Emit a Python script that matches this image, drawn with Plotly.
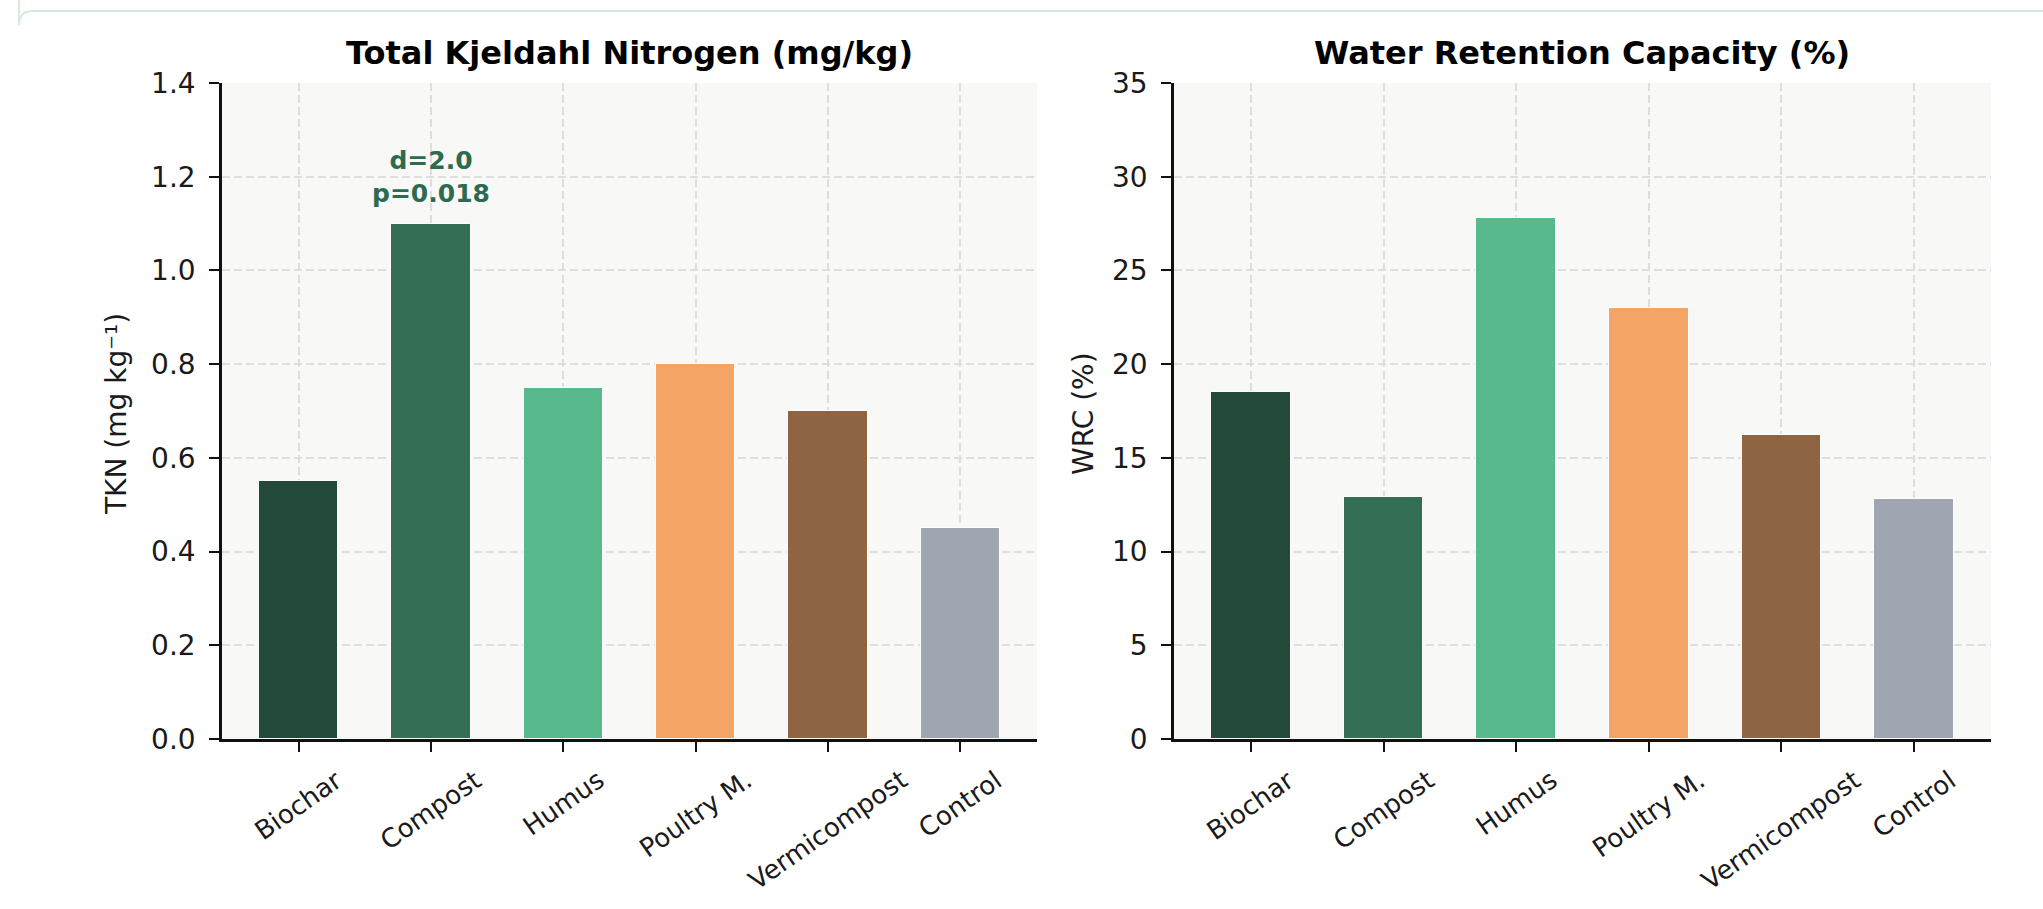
import plotly.graph_objects as go

# ---- data -------------------------------------------------------------
amendments = ["Biochar", "Compost", "Humus", "Poultry M.", "Vermicompost", "Control"]
tkn_values = [0.55, 1.10, 0.75, 0.80, 0.70, 0.45]          # mg/kg
wrc_values = [18.5, 12.9, 27.8, 23.0, 16.2, 12.8]          # %
bar_colors = ["#1b4332", "#2d6a4f", "#52b788", "#f4a261", "#8b5e3c", "#9ca3af"]

tkn_ticks = [0.0, 0.2, 0.4, 0.6, 0.8, 1.0, 1.2, 1.4]
wrc_ticks = [0, 5, 10, 15, 20, 25, 30, 35]

highlight_idx = 1
highlight_text = "d=2.0<br>p=0.018"

# ---- geometry (pixels on a 2043 x 909 canvas) -------------------------
W, H = 2043, 909
FONT = "DejaVu Sans"
left_dom = [222 / W, 1037 / W]
right_dom = [1174 / W, 1991 / W]
y_dom = [1 - 739 / H, 1 - 83 / H]
positions = list(range(len(amendments)))
x_range = [-0.58, len(amendments) - 1 + 0.58]

fig = go.Figure()

fig.add_trace(go.Bar(
    x=positions, y=tkn_values, width=0.6,
    marker=dict(color=bar_colors, opacity=0.96, line=dict(color="white", width=1)),
    xaxis="x", yaxis="y", showlegend=False,
))
fig.add_trace(go.Bar(
    x=positions, y=wrc_values, width=0.6,
    marker=dict(color=bar_colors, opacity=0.96, line=dict(color="white", width=1)),
    xaxis="x2", yaxis="y2", showlegend=False,
))

grid_style = dict(showgrid=True, gridcolor="#dedede", gridwidth=1.5, griddash="8px,4px")
line_style = dict(showline=True, linecolor="#111111", linewidth=2.6, mirror=False,
                  ticks="outside", ticklen=10, tickwidth=2.4, tickcolor="#111111",
                  zeroline=False, automargin=False)

xcommon = dict(range=x_range, tickvals=positions, showticklabels=False, **grid_style, **line_style)
ycommon = dict(ticklabelstandoff=8, tickfont=dict(family=FONT, size=28, color="#1a1a1a"),
               **grid_style, **line_style)
fig.update_layout(
    xaxis=dict(domain=left_dom, anchor="y", **xcommon),
    xaxis2=dict(domain=right_dom, anchor="y2", **xcommon),
    yaxis=dict(domain=y_dom, anchor="x", range=[0, 1.4], tickvals=tkn_ticks,
               ticktext=[f"{v:.1f}" for v in tkn_ticks], **ycommon),
    yaxis2=dict(domain=y_dom, anchor="x2", range=[0, 35], tickvals=wrc_ticks,
                ticktext=[str(v) for v in wrc_ticks], **ycommon),
)

annotations = []

# panel titles
for dom, title in [(left_dom, "Total Kjeldahl Nitrogen (mg/kg)"),
                   (right_dom, "Water Retention Capacity (%)")]:
    annotations.append(dict(
        text=f"<b>{title}</b>", x=(dom[0] + dom[1]) / 2, y=1 - 53 / H,
        xref="paper", yref="paper", xanchor="center", yanchor="middle",
        showarrow=False, font=dict(family=FONT, size=32, color="#000000"),
    ))

# y-axis titles
for xpix, label in [(117, "TKN (mg kg⁻¹)"), (1084, "WRC (%)")]:
    annotations.append(dict(
        text=label, x=xpix / W, y=1 - 414 / H, xref="paper", yref="paper",
        xanchor="center", yanchor="middle", textangle=-90, showarrow=False,
        font=dict(family=FONT, size=28, color="#1a1a1a"),
    ))

# rotated category labels under each panel
for xref in ["x", "x2"]:
    for pos, name in zip(positions, amendments):
        annotations.append(dict(
            text=name, x=pos, xref=xref, y=y_dom[0], yref="paper",
            xanchor="center", yanchor="top", yshift=-23, textangle=-35,
            showarrow=False, font=dict(family=FONT, size=26, color="#1a1a1a"),
        ))

# effect-size label above the highlighted bar
annotations.append(dict(
    text=f"<b>{highlight_text}</b>", x=positions[highlight_idx], y=tkn_values[highlight_idx],
    xref="x", yref="y", xanchor="center", yanchor="bottom", yshift=14,
    showarrow=False, font=dict(family=FONT, size=25, color="#2d6a4f"),
))

# rounded card outline (left and top edges run off the canvas)
r = 14
x0, y0 = 19, 11
card_path = (f"M {x0/W},{1 + 50/H} L {x0/W},{1 - (y0 + r)/H} "
             f"Q {x0/W},{1 - y0/H} {(x0 + r)/W},{1 - y0/H} L {1 + 50/W},{1 - y0/H}")

fig.update_layout(
    width=W, height=H,
    margin=dict(l=0, r=0, t=0, b=0),
    paper_bgcolor="white",
    plot_bgcolor="#f8f8f6",
    bargap=0,
    annotations=annotations,
    shapes=[dict(type="path", path=card_path, xref="paper", yref="paper",
                 line=dict(color="#d4ebda", width=2), layer="below")],
    font=dict(family=FONT),
)

fig.write_html("out.html")
